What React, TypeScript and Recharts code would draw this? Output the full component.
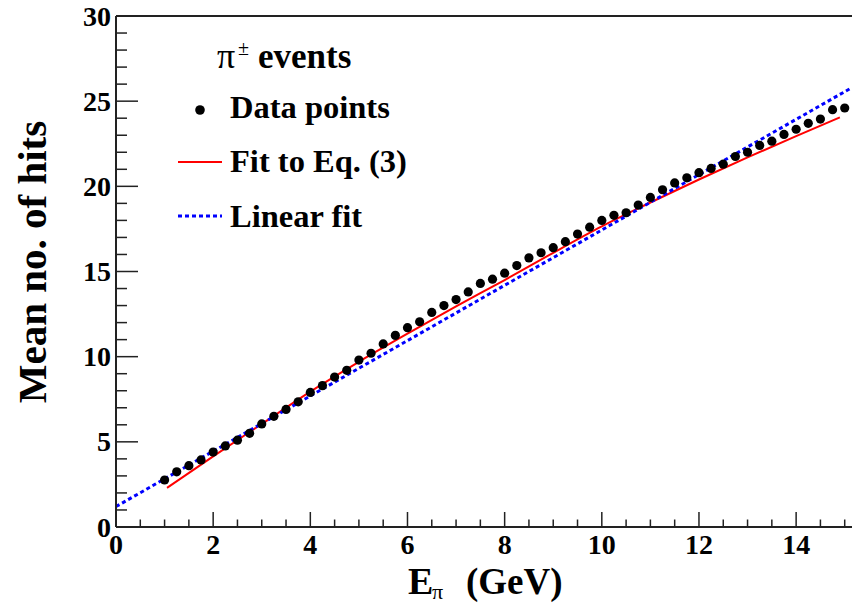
import { ComposedChart, XAxis, YAxis, Line, Scatter, ReferenceLine } from 'recharts';

const energies = [
  1, 1.25, 1.5, 1.75, 2, 2.25, 2.5, 2.75, 3, 3.25, 3.5, 3.75, 4, 4.25, 4.5, 4.75,
  5, 5.25, 5.5, 5.75, 6, 6.25, 6.5, 6.75, 7, 7.25, 7.5, 7.75, 8, 8.25, 8.5, 8.75,
  9, 9.25, 9.5, 9.75, 10, 10.25, 10.5, 10.75, 11, 11.25, 11.5, 11.75, 12, 12.25,
  12.5, 12.75, 13, 13.25, 13.5, 13.75, 14, 14.25, 14.5, 14.75, 15,
];
const meanHits = [
  2.76, 3.24, 3.6, 3.94, 4.4, 4.76, 5.1, 5.5, 6.05, 6.5, 6.9, 7.35, 7.9, 8.3, 8.8, 9.2,
  9.8, 10.2, 10.75, 11.25, 11.7, 12.05, 12.6, 13.0, 13.35, 13.8, 14.3, 14.55, 14.9, 15.35, 15.8, 16.1,
  16.4, 16.75, 17.2, 17.6, 18.0, 18.3, 18.45, 18.9, 19.35, 19.8, 20.2, 20.5, 20.8, 21.05,
  21.3, 21.75, 22.0, 22.4, 22.65, 23.05, 23.35, 23.7, 23.95, 24.5, 24.6,
];

// curve of the fit to Eq. (3)
const fitX = [1.05, 2, 3, 4, 5, 6, 7, 8, 9, 10, 11, 12, 13, 14, 14.9];
const fitY = [2.3, 4.15, 6.05, 7.95, 9.7, 11.35, 12.95, 14.5, 16.1, 17.65, 19.05, 20.4, 21.7, 22.95, 24.05];

// linear fit end points
const linX = [0, 15.15];
const linY = [1.2, 25.8];

const xTicks = [
  0, 0.5, 1, 1.5, 2, 2.5, 3, 3.5, 4, 4.5, 5, 5.5, 6, 6.5, 7, 7.5, 8, 8.5, 9, 9.5,
  10, 10.5, 11, 11.5, 12, 12.5, 13, 13.5, 14, 14.5, 15,
];
const yTicks = [
  0, 1, 2, 3, 4, 5, 6, 7, 8, 9, 10, 11, 12, 13, 14, 15, 16, 17, 18, 19, 20,
  21, 22, 23, 24, 25, 26, 27, 28, 29, 30,
];

const FONT = '"Liberation Serif", "Times New Roman", serif';
const AXIS = '#222';

const points = energies.map((e, i) => ({ x: e, y: meanHits[i] }));
const fitData = fitX.map((e, i) => ({ x: e, y: fitY[i] }));
const linData = linX.map((e, i) => ({ x: e, y: linY[i] }));

function XTick(props: any) {
  const { x, y, payload } = props;
  const v = payload.value;
  const major = v % 2 === 0;
  return (
    <g>
      <line x1={x} x2={x} y1={y} y2={y - (major ? 15 : 7.5)} stroke={AXIS} strokeWidth={1.5} />
      {major && (
        <text x={x} y={y + 27} textAnchor="middle" fontFamily={FONT} fontWeight="bold" fontSize={28} fill="#000">
          {v}
        </text>
      )}
    </g>
  );
}

function YTick(props: any) {
  const { x, y, payload } = props;
  const v = payload.value;
  const major = v % 5 === 0;
  return (
    <g>
      <line x1={x} x2={x + (major ? 22 : 11)} y1={y} y2={y} stroke={AXIS} strokeWidth={1.5} />
      {major && (
        <text x={x - 5} y={y + 9.5} textAnchor="end" fontFamily={FONT} fontWeight="bold" fontSize={28} fill="#000">
          {v}
        </text>
      )}
    </g>
  );
}

const Dot = (props: any) => <circle cx={props.cx} cy={props.cy} r={4.6} fill="#000" />;

export default function App() {
  return (
    <div style={{ position: 'absolute', left: 0, top: 0, width: 853, height: 605, background: '#fff' }}>
      <style>{'body{margin:0}'}</style>
      <ComposedChart width={853} height={605} margin={{ top: 16, right: 1, left: 0, bottom: 0 }}>
        <XAxis
          type="number"
          dataKey="x"
          domain={[0, 15.15]}
          ticks={xTicks}
          interval={0}
          height={78}
          tickSize={0}
          tickMargin={0}
          tickLine={false}
          tick={<XTick />}
          axisLine={{ stroke: AXIS, strokeWidth: 2 }}
          allowDataOverflow
        />
        <YAxis
          type="number"
          dataKey="y"
          domain={[0, 30]}
          ticks={yTicks}
          interval={0}
          width={116}
          tickSize={0}
          tickMargin={0}
          tickLine={false}
          tick={<YTick />}
          axisLine={{ stroke: AXIS, strokeWidth: 2 }}
          allowDataOverflow
        />
        <ReferenceLine y={30} stroke={AXIS} strokeWidth={2} />
        <Scatter data={points} dataKey="y" shape={Dot} isAnimationActive={false} />
        <Line
          data={fitData}
          dataKey="y"
          type="monotone"
          stroke="#ff0000"
          strokeWidth={2}
          dot={false}
          isAnimationActive={false}
        />
        <Line
          data={linData}
          dataKey="y"
          type="linear"
          stroke="#0000ff"
          strokeWidth={3}
          strokeDasharray="4 3"
          dot={false}
          isAnimationActive={false}
        />
      </ComposedChart>
      <svg
        width={853}
        height={605}
        style={{ position: 'absolute', left: 0, top: 0, pointerEvents: 'none' }}
        fontFamily={FONT}
        fontWeight="bold"
      >
        <text transform="translate(46,262) rotate(-90)" textAnchor="middle" fontSize={41} fill="#000">
          Mean no. of hits
        </text>
        <text x={408} y={594} fontSize={38} fill="#000">E</text>
        <text x={432} y={599} fontSize={22} fontWeight="normal" fill="#000">π</text>
        <text x={466} y={594} fontSize={37} fill="#000">(GeV)</text>

        <text x={217} y={68} fontSize={36} fontWeight="normal" fill="#000">π</text>
        <text x={238} y={55} fontSize={20} fontWeight="normal" fill="#000">±</text>
        <text x={258} y={68} fontSize={35} fill="#000">events</text>
        <circle cx={200} cy={110} r={4.8} fill="#000" />
        <text x={230} y={118} fontSize={32.5} fill="#000">Data points</text>
        <line x1={178} x2={222} y1={162} y2={162} stroke="#ff0000" strokeWidth={2} />
        <text x={230} y={172} fontSize={32.5} fill="#000">Fit to Eq. (3)</text>
        <line x1={178} x2={222} y1={216} y2={216} stroke="#0000ff" strokeWidth={3} strokeDasharray="4 3" />
        <text x={230} y={227} fontSize={32.5} fill="#000">Linear fit</text>
      </svg>
    </div>
  );
}
